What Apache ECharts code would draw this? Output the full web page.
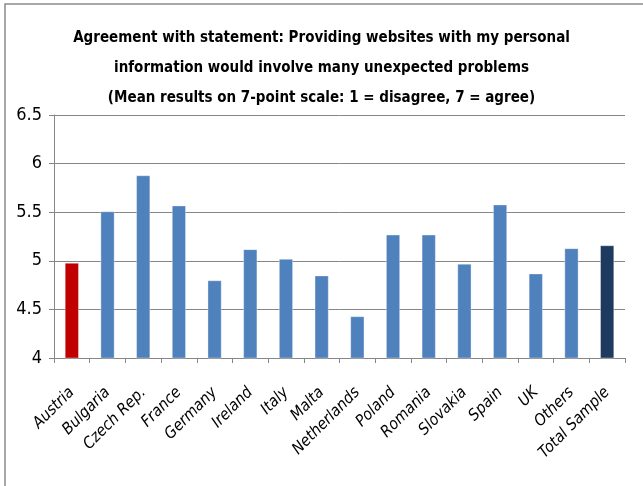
<!DOCTYPE html>
<html>
<head>
<meta charset="utf-8">
<script src="https://cdn.jsdelivr.net/npm/echarts@6/dist/echarts.min.js"></script>
<style>
  html, body { margin: 0; padding: 0; background: #fff; }
  #chart { width: 643px; height: 486px; }
</style>
</head>
<body>
<div id="chart"></div>
<script>
var countries = ['Austria', 'Bulgaria', 'Czech Rep.', 'France', 'Germany', 'Ireland', 'Italy', 'Malta',
  'Netherlands', 'Poland', 'Romania', 'Slovakia', 'Spain', 'UK', 'Others', 'Total Sample']
var meanScores = [4.98, 5.51, 5.88, 5.57, 4.80, 5.12, 5.02, 4.85, 4.43, 5.27, 5.27, 4.97, 5.58, 4.87, 5.13, 5.16]
var titleLines = [
  'Agreement with statement: Providing websites with my personal',
  'information would involve many unexpected problems',
  '(Mean results on 7-point scale: 1 = disagree, 7 = agree)'
]

var font = "'Liberation Sans Narrow', 'DejaVu Sans Condensed', 'Open Sans', sans-serif"

function barColor(name) {
  if (name === 'Austria') return '#C00000'
  if (name === 'Total Sample') return '#1F3A5F'
  return '#4F81BD'
}

var chart = echarts.init(document.getElementById('chart'))
chart.setOption({
  animation: false,
  title: {
    text: titleLines.join('\n'),
    left: 'center',
    top: 18,
    textStyle: {
      fontFamily: font,
      fontSize: 15,
      fontWeight: 'bold',
      color: '#000',
      lineHeight: 30
    }
  },
  graphic: [{
    type: 'rect',
    shape: { x: 5, y: 4, width: 700, height: 600 },
    style: { fill: 'none', stroke: '#8c8c8c', lineWidth: 1.5 },
    silent: true
  }],
  grid: {
    left: 54,
    right: 18,
    top: 115,
    bottom: 128
  },
  xAxis: {
    type: 'category',
    data: countries,
    axisLine: { lineStyle: { color: '#868686' } },
    axisTick: { show: true, length: 5, alignWithLabel: false, lineStyle: { color: '#868686' } },
    axisLabel: {
      rotate: 45,
      interval: 0,
      margin: 32,
      fontFamily: font,
      fontStyle: 'italic',
      fontSize: 16,
      color: '#000'
    }
  },
  yAxis: {
    type: 'value',
    min: 4,
    max: 6.5,
    interval: 0.5,
    axisLine: { show: true, lineStyle: { color: '#868686' } },
    axisTick: { show: true, length: 5, inside: false, lineStyle: { color: '#868686' } },
    splitLine: { lineStyle: { color: '#868686', width: 1 } },
    axisLabel: {
      margin: 12,
      fontFamily: font,
      fontSize: 18,
      color: '#000'
    }
  },
  series: [{
    type: 'bar',
    barWidth: '40%',
    data: countries.map(function (name, i) {
      return {
        value: meanScores[i],
        itemStyle: { color: barColor(name), borderColor: 'rgba(255,255,255,0.35)', borderWidth: 1 }
      }
    })
  }]
})
</script>
</body>
</html>
